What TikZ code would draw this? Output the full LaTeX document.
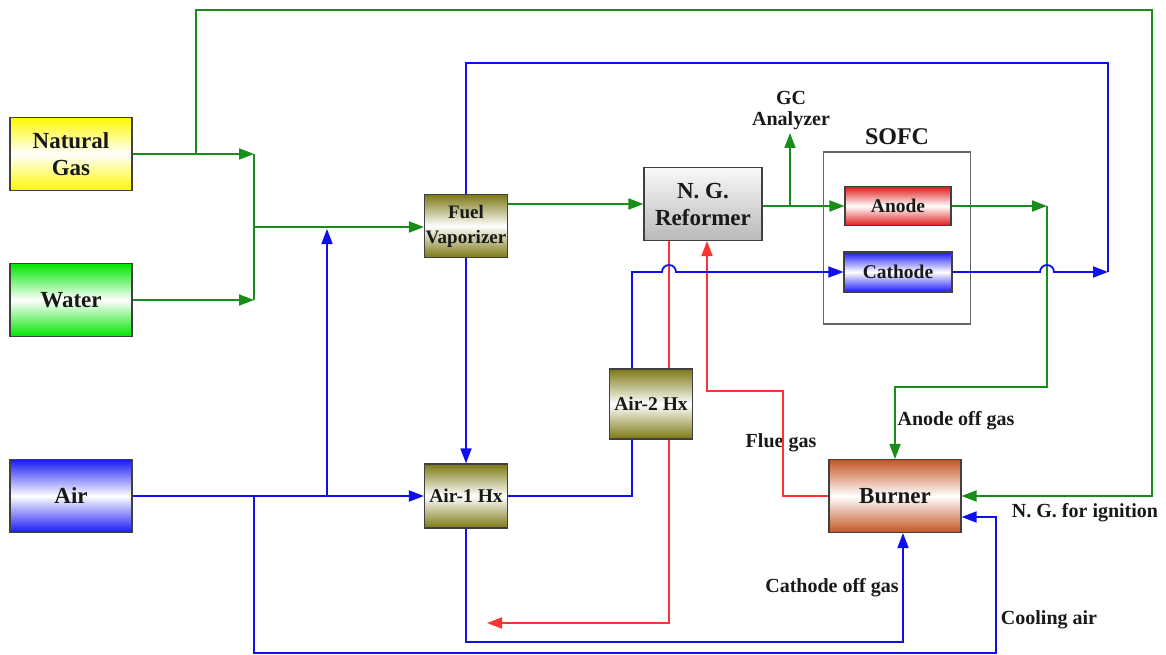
\documentclass[tikz,border=0pt]{standalone}
\usepackage{fontspec}
\setmainfont{Liberation Serif}
\usetikzlibrary{arrows.meta,calc}
\definecolor{fg}{RGB}{25,140,25}
\definecolor{fb}{RGB}{15,15,240}
\definecolor{fr}{RGB}{255,50,50}
\definecolor{olv}{RGB}{125,120,20}
\definecolor{ngy}{RGB}{255,248,0}
\definecolor{wat}{RGB}{0,230,0}
\definecolor{airb}{RGB}{25,25,245}
\definecolor{anr}{RGB}{225,25,25}
\definecolor{brn}{RGB}{195,85,35}
\definecolor{refg}{RGB}{185,185,185}
\tikzset{
  unit/.style={draw=black!75, line width=1.1pt, align=center, inner xsep=0.5pt, inner ysep=0pt,
    font=\bfseries\fontsize{23}{27}\selectfont, text=black!90},
  shadebox/.style={top color=#1, bottom color=#1, middle color=white},
  small/.style={font=\bfseries\fontsize{19.5}{24}\selectfont},
  lbl/.style={font=\bfseries\fontsize{20}{23}\selectfont, text=black!90, align=center, inner sep=0pt},
  gflow/.style={draw=fg, line width=1.8pt},
  bflow/.style={draw=fb, line width=1.8pt},
  rflow/.style={draw=fr, line width=1.8pt},
  arr/.style={-{Triangle[length=15pt,width=11pt]}},
}
\begin{document}
\begin{tikzpicture}[x=1pt,y=-1pt]
\useasboundingbox (0,0) rectangle (1166,655);
% nodes
\node[unit, shadebox=ngy, minimum width=122pt, minimum height=73pt] (ng) at (71,154) {Natural\\Gas};
\node[unit, shadebox=wat, minimum width=122pt, minimum height=73pt] (water) at (71,300) {Water};
\node[unit, shadebox=airb, minimum width=122pt, minimum height=73pt] (air) at (71,496) {Air};
\node[unit, small, shadebox=olv, minimum width=83pt, minimum height=63pt, font=\bfseries\fontsize{19}{25}\selectfont] (fv) at (466,226) {Fuel\\Vaporizer};
\node[unit, top color=gray!5, bottom color=refg, minimum width=118pt, minimum height=73pt] (ref) at (703,204) {N. G.\\Reformer};
\node[draw=black!60, line width=1.1pt, fill=white, minimum width=147pt, minimum height=172pt] (sofc) at (897,238) {};
\node[lbl, font=\bfseries\fontsize{24}{26}\selectfont] (sofcl) at (897,137) {SOFC};
\node[unit, small, shadebox=anr, minimum width=106pt, minimum height=39pt] (anode) at (898,206) {Anode};
\node[unit, small, shadebox=airb, minimum width=108pt, minimum height=40pt] (cathode) at (898,272) {Cathode};
\node[unit, small, shadebox=olv, minimum width=83pt, minimum height=70pt] (air2) at (651,404) {Air-2 Hx};
\node[unit, small, shadebox=olv, minimum width=83pt, minimum height=64pt] (air1) at (466,496) {Air-1 Hx};
\node[unit, shadebox=brn, minimum width=132pt, minimum height=73pt] (burner) at (895,496) {Burner};
% labels
\node[lbl] (gcl) at (791,111) {GC\\[-2pt]Analyzer};
\node[lbl] (fluel) at (781,443) {Flue gas};
\node[lbl] (aogl) at (956,421) {Anode off gas};
\node[lbl] (ngil) at (1085,513) {N. G. for ignition};
\node[lbl] (cogl) at (832,588) {Cathode off gas};
\node[lbl] (coll) at (1049,620) {Cooling air};
% coordinates
\coordinate (j1) at (254,154);
\coordinate (j2) at (254,300);
\coordinate (j3) at (254,227);
\coordinate (t0) at (196,154);
\coordinate (t1) at (196,10);
\coordinate (t2) at (1152,10);
\coordinate (gc) at (790,206);
\coordinate (gct) at (790,133);
\coordinate (ao1) at (1047,206);
\coordinate (ao2) at (1047,387);
\coordinate (ao3) at (895,387);
% green flows
\draw[gflow,arr] (ng.east) -- (j1);
\draw[gflow,arr] (water.east) -- (j2);
\draw[gflow] (j1) -- (j2);
\draw[gflow,arr] (j3) -- (j3 -| fv.west);
\draw[gflow,arr] (t0) -- (t1) -- (t2) -- (t2 |- burner.east) -- (burner.east);
\draw[gflow,arr] (fv.east |- ref.west) -- (ref.west);
\draw[gflow,arr] (ref.east |- anode.west) -- (anode.west);
\draw[gflow,arr] (gc) -- (gct);
\draw[gflow,arr] (anode.east) -- (ao1);
\draw[gflow,arr] (ao1) -- (ao2) -- (ao3) -- (burner.north);
% red flows
\draw[rflow] (669,0 |- ref.south) -- (669,0 |- air2.north);
\draw[rflow,arr] (669,0 |- air2.south) -- (669,623) -- (487,623);
\draw[rflow,arr] (burner.west) -- (783,0 |- burner.west) -- (783,391) -- (707,391) -- (707,0 |- ref.south);
% blue flows
\coordinate (ab1) at (327,496);
\coordinate (ab2) at (254,496);
\draw[bflow,arr] (air.east) -- (air1.west);
\draw[bflow,arr] (ab1) -- (327,229);
\draw[bflow,arr] (ab2) -- (254,653) -- (996,653) -- (996,517) -- (burner.east |- 996,517);
\draw[bflow,arr] (cathode.east) -- (1040,272) arc[start angle=180,end angle=360,radius=7] -- (1108,272);
\draw[bflow] (1108,272) -- (1108,63) -- (466,63) -- (fv.north);
\draw[bflow,arr] (fv.south) -- (air1.north);
\draw[bflow,arr] (air1.south) -- (466,642) -- (903,642) -- (903,0 |- burner.south);
\draw[bflow] (air1.east) -- (632,496) -- (632,0 |- air2.south);
\draw[bflow,arr] (632,0 |- air2.north) -- (632,272) -- (662,272) arc[start angle=180,end angle=360,radius=7] -- (cathode.west);
\end{tikzpicture}
\end{document}
